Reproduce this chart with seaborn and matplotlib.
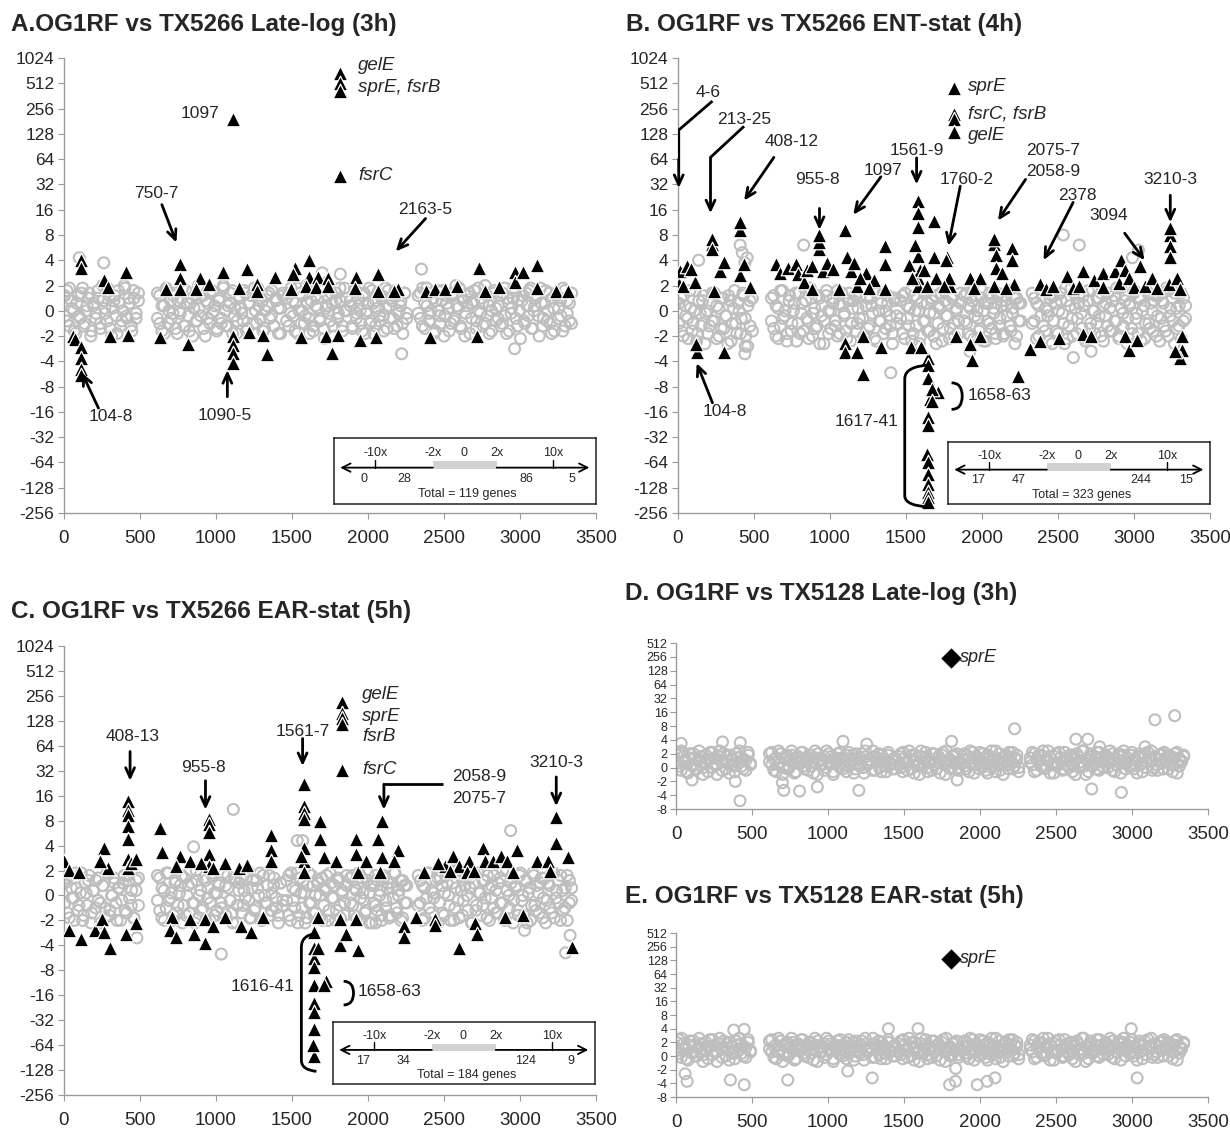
import numpy as np
import matplotlib
matplotlib.use("Agg")
import matplotlib.pyplot as plt
from matplotlib.path import Path
from matplotlib.patches import PathPatch
from matplotlib.ticker import FuncFormatter
import seaborn as sns

# ---- data (y in log2 units: 1 -> "2", -1 -> "-2", 0 -> "0") ----
# gene-order ranges covered by the array (gaps between them)
SEGMENTS = [(5, 490), (615, 1440), (1465, 1860), (1885, 2255), (2330, 3340)]

A_CLOUD = [
    [0.6,-0.4,0.9,0.1,-0.8,0.3,-0.2,0.7,-0.6,0.0,0.5,-1.0,0.2,-0.3,0.8,-0.5,0.4,-0.1,0.9,-0.7,0.1,0.6,-0.9,0.3,-0.4,1.0,-0.2,0.5,-0.6,0.8,-0.3,0.4],
    [0.7,-0.5,0.2,-0.9,0.8,0.0,-0.3,0.6,-0.7,0.4,-0.1,0.9,-0.6,0.3,-0.8,0.5,0.1,-0.4,1.0,-0.2,0.6,-1.0,0.3,-0.5,0.8,0.0,-0.7,0.4,-0.3,0.9,-0.6,0.2,0.7,-0.9,0.1,-0.4,0.5,-0.1,0.8,-0.8,0.3,0.6,-0.5,0.0,0.9,-0.3,0.4,-0.7,0.2,0.7,-0.2,-0.6,0.5,0.1,-0.9,0.6],
    [0.5,-0.6,0.9,-0.2,0.3,-0.9,0.7,0.0,-0.5,1.0,-0.3,0.4,-0.8,0.6,0.1,-0.4,0.8,-1.1,0.2,-0.1,0.7,-0.6,0.4,-0.3,0.9,-0.8,0.0,0.5],
    [0.4,-0.7,0.8,-0.1,0.2,-0.5,0.6,-0.9,0.0,0.9,-0.4,0.3,-0.6,0.7,-0.2,0.5,-0.8,0.1,0.8,-0.3,0.4,-0.7,0.6,-0.1,0.2,-0.5,0.7,-0.3],
    [0.6,-0.3,0.9,-0.7,0.2,-0.1,0.7,-0.9,0.4,0.0,-0.5,0.8,-0.2,0.3,-0.8,0.6,-0.4,1.0,0.1,-0.6,0.5,-1.0,0.2,0.7,-0.3,0.4,-0.7,0.9,-0.1,0.3,-0.5,0.6,-0.9,0.0,0.8,-0.4,0.2,-0.6,0.7,-0.2,0.5,-0.8,0.1,0.9,-0.3,0.4,-1.1,0.6,-0.5,0.2,0.8,-0.7,0.0,0.5,-0.2,0.9,-0.6,0.3,-0.4,0.7,-0.9,0.1,0.6,-0.3,0.4,-0.8,0.8,-0.1,0.3,-0.5],
]
A_CLOUD2 = [
    [-0.2,0.8,-0.6,0.4,0.0,-0.9,0.6,-0.3,0.9,-0.5,0.2,0.7,-0.8,0.3,-0.1,0.5,-0.7,1.0,0.1,-0.4,0.6,-1.0,0.4,-0.2,0.8,-0.6,0.0,0.9,-0.3,0.3,-0.8,0.5,-0.1,0.7],
    [-0.3,0.6,-0.8,0.2,0.9,-0.5,0.4,-0.1,0.7,-0.9,0.0,0.5,-0.6,0.8,-0.2,0.3,-1.0,0.6,-0.4,0.1,0.9,-0.7,0.4,-0.3,0.7,-0.1,0.2,-0.8,0.5,-0.5,1.0,0.0,-0.6,0.3,0.8,-0.2,-0.9,0.6,0.1,-0.4,0.7,-0.7,0.3,-0.1,0.9,-0.5,0.2,0.5,-0.8,0.0,0.6,-0.3,0.8,-0.6,0.4,-0.9,0.1,0.7],
    [-0.4,0.7,-0.1,0.4,-0.8,0.9,0.0,-0.5,0.6,-0.2,0.3,-0.9,0.8,-0.6,0.2,0.5,-0.3,1.0,-0.7,0.1,0.6,-0.4,0.3,-1.0,0.7,-0.1,0.4,-0.6,0.9,0.0],
    [0.2,-0.6,0.9,-0.3,0.5,0.0,-0.8,0.7,-0.1,0.3,-0.5,0.8,-0.9,0.4,0.1,-0.4,0.6,-0.2,0.9,-0.7,0.2,0.5,-0.3,0.8,-0.6,0.0,0.4,-0.9,0.7,-0.1],
    [-0.1,0.7,-0.6,0.3,0.9,-0.4,0.0,0.5,-0.8,0.8,-0.2,0.4,-1.0,0.6,0.1,-0.5,0.7,-0.3,0.2,0.9,-0.7,0.4,-0.1,0.6,-0.9,0.3,0.8,-0.4,0.0,0.5,-0.6,1.0,-0.2,0.2,-0.8,0.7,0.1,-0.3,0.6,-0.5,0.9,-0.9,0.3,-0.1,0.5,0.8,-0.6,0.0,0.4,-0.4,0.7,-0.2,0.9,-0.7,0.2,0.6,-1.0,0.3,-0.3,0.8,0.0,-0.5,0.5,-0.8,0.6,0.1,-0.2,0.9,-0.6,0.4,-0.4,0.7],
]
A_OUT = [(2352, 1.65), (2222, -1.7), (2965, -1.5), (1818, 1.45), (100, 2.1), (262, 1.9), (1700, 1.5)]
A_TRI = [
    (1818, 9.4), (1818, 9.0), (1818, 8.7), (1114, 7.6), (1818, 5.35),
    (110, 2.0), (110, 1.7), (265, 1.2), (292, 0.95), (409, 1.55),
    (57, -1.0), (75, -1.1), (110, -1.45), (110, -1.85), (110, -2.3), (110, -2.55),
    (305, -1.0), (422, -0.95), (631, -1.05),
    (762, 1.85), (762, 1.3), (762, 0.85), (670, 0.85), (814, -1.3),
    (892, 1.3), (866, 0.85), (957, 1.05), (1048, 1.55),
    (1114, -1.0), (1114, -1.35), (1114, -1.65), (1114, -2.05),
    (1205, 1.65), (1153, 0.9), (1218, -0.85),
    (1270, 1.05), (1270, 0.8), (1309, -0.95), (1335, -1.7), (1387, 1.35),
    (1518, 1.7), (1505, 1.45), (1495, 0.85), (1557, -1.05),
    (1609, 2.0), (1609, 1.35), (1590, 1.0), (1674, 1.35), (1660, 0.95),
    (1740, 1.3), (1735, 1.0), (1726, -1.0), (1766, -1.65), (1805, -0.95),
    (1922, 1.35), (1915, 0.9), (1948, -1.15),
    (2065, 1.45), (2065, 0.8), (2052, -1.05), (2196, 0.85), (2170, 0.8),
    (2379, 0.8), (2405, -1.05), (2444, 0.85), (2509, 0.85), (2587, 1.0),
    (2717, -1.0), (2731, 1.7), (2770, 0.8), (2861, 0.95),
    (2965, 1.55), (2965, 1.15), (3017, 1.55), (3109, 1.8), (3109, 0.9),
    (3239, 0.8), (3317, 0.8),
]

B_CLOUD = [
    [0.3,-0.8,0.6,-0.2,-1.1,0.1,-0.5,0.8,-0.9,-0.1,0.4,-1.3,0.0,-0.6,0.7,-0.4,0.2,-1.0,0.5,-0.7,-0.2,0.6,-1.2,0.1,-0.5,0.3,-0.9,0.7,-0.3,-1.4,0.4,-0.8],
    [0.5,-0.7,0.2,-1.1,0.8,-0.3,0.0,-0.9,0.6,-0.5,0.3,-1.2,0.7,-0.1,-0.8,0.4,-0.4,0.9,-1.0,0.1,-0.6,0.5,-0.2,-1.3,0.6,0.0,-0.7,0.3,-0.4,0.8,-0.9,0.2,-0.1,-1.1,0.7,-0.5,0.4,-0.8,0.1,0.6,-0.3,-1.0,0.5,-0.6,0.2,0.8,-1.2,0.0,-0.4,0.7,-0.7,0.3,-0.2,-0.9,0.5,-0.5],
    [0.4,-0.9,0.7,-0.3,0.1,-1.2,0.6,-0.6,0.0,-1.0,0.8,-0.4,0.3,-0.8,0.5,-0.1,-1.3,0.2,0.7,-0.7,0.4,-0.2,-1.1,0.6,-0.5,0.1,-0.9,0.3],
    [0.6,-0.5,0.2,-1.0,0.8,-0.2,0.0,-0.8,0.5,-1.2,0.3,-0.4,0.7,-0.7,0.1,-1.1,0.6,-0.3,0.4,-0.9,0.2,0.8,-0.6,-0.1,0.5,-1.0,0.3,-0.4],
    [0.7,-0.4,0.3,-1.0,0.8,-0.6,0.1,-0.2,0.5,-1.3,0.6,-0.8,0.0,0.4,-0.5,0.9,-1.1,0.2,-0.3,0.7,-0.9,0.3,-0.1,0.6,-1.2,0.4,-0.7,0.8,0.0,-0.5,0.5,-1.0,0.2,-0.2,0.7,-0.8,0.4,-0.4,0.9,-1.1,0.1,-0.6,0.6,-0.3,0.3,-0.9,0.8,-0.1,0.5,-1.2,0.2,-0.5,0.7,-0.7,0.0,0.4,-1.0,0.6,-0.3,0.3,-0.8,0.8,-0.2,0.5,-1.3,0.1,-0.6,0.7,-0.4,0.2],
]
B_CLOUD2 = [
    [-0.5,0.5,-1.0,0.2,-0.3,0.8,-0.8,0.0,-1.2,0.4,-0.6,0.6,-0.1,-0.9,0.3,-0.4,0.7,-1.1,0.1,-0.7,0.5,-0.2,-1.3,0.4,-0.5,0.8,-0.9,0.0,-0.3,0.6,-1.0,0.2,-0.6,0.5],
    [-0.4,0.6,-1.0,0.1,-0.6,0.8,-0.2,-1.2,0.4,-0.8,0.0,0.7,-0.5,-0.9,0.3,0.9,-0.3,-1.1,0.5,-0.1,-0.7,0.6,-1.3,0.2,-0.4,0.8,-0.9,0.0,0.5,-0.6,-1.0,0.3,0.7,-0.2,-0.8,0.4,-1.2,0.1,0.6,-0.5,-0.3,0.9,-1.0,0.2,-0.7,0.5,-0.1,-1.1,0.7,-0.4,0.3,-0.9,0.0,0.6,-0.6,-1.3,0.4,-0.2],
    [-0.3,0.6,-1.1,0.2,-0.6,0.8,-0.9,0.0,0.5,-1.3,0.3,-0.4,0.7,-0.8,-0.1,0.4,-1.0,0.6,-0.5,0.1,-1.2,0.8,-0.2,0.3,-0.7,0.5,-1.0,0.0,-0.4,0.7],
    [-0.4,0.7,-0.9,0.1,0.4,-1.1,0.6,-0.3,-0.7,0.8,0.0,-1.2,0.3,-0.5,0.5,-0.1,-0.9,0.7,-0.6,0.2,-1.0,0.4,-0.2,0.8,-0.8,0.1,-1.3,0.5,-0.4,0.3],
    [-0.5,0.5,-1.1,0.2,-0.2,0.8,-0.8,0.0,-1.2,0.6,-0.4,0.3,-0.9,0.7,-0.1,-1.3,0.4,-0.6,0.9,-1.0,0.1,-0.3,0.6,-0.7,0.2,-1.1,0.8,-0.5,0.0,-0.9,0.5,-0.2,0.7,-1.2,0.3,-0.6,0.1,-0.8,0.6,-0.4,-1.0,0.9,-0.1,0.4,-1.3,0.2,-0.7,0.7,-0.3,-0.9,0.5,0.0,-1.1,0.8,-0.5,0.3,-0.8,0.6,-0.2,-1.2,0.4,-0.6,0.9,-1.0,0.1,-0.4,0.7,-0.7,0.2,-1.1,0.5,-0.3],
]
B_OUT = [(409, 2.6), (423, 2.3), (440, 1.9), (455, 2.1), (136, 2.0), (443, -1.4), (440, -1.7), (827, 2.6),
         (2535, 3.0), (2640, 2.6), (2601, -1.85), (2718, -1.6), (1400, -2.45), (1920, -1.6), (3030, 2.4), (2990, 2.1)]
B_TRI = [
    (1818, 8.8), (1818, 7.8), (1818, 7.57), (1818, 7.07),
    (1578, 4.36), (1578, 3.86), (1578, 3.3), (1578, 2.15), (1578, 1.3), (1578, 1.0), (1560, 2.6), (1590, 1.6),
    (1687, 3.57), (1687, 2.14), (1700, 1.3),
    (1648, -1.86), (1648, -2.14), (1648, -2.65), (1655, -3.5), (1648, -4.2), (1648, -4.5), (1640, -5.65),
    (1648, -6.0), (1648, -6.45), (1648, -6.85), (1648, -7.15), (1648, -7.35), (1648, -7.55),
    (1713, -3.2), (1670, -3.1), (1670, -3.55),
    (1773, 2.14), (1792, 1.0), (1780, 1.3),
    (5, 1.07), (15, 1.57), (60, 1.79), (30, 1.0), (110, 1.14), (83, 1.64), (227, 2.64), (227, 2.86), (227, 2.43),
    (240, 0.79), (279, 1.57), (305, 1.93), (409, 3.21), (409, 3.5), (409, 1.43), (435, 1.86), (475, 0.93),
    (123, -1.64), (118, -1.3), (305, -1.64),
    (644, 1.86), (670, 1.5), (722, 1.71), (775, 1.86), (790, 1.45), (827, 1.14), (850, 1.6), (879, 0.86),
    (879, 1.79), (931, 2.43), (931, 2.71), (931, 3.0), (957, 1.57), (980, 1.9), (1022, 1.64), (1061, 0.86),
    (1100, 3.21), (1114, 2.14), (1140, 1.57), (1160, 1.9), (1179, 1.0), (1100, -1.29), (1100, -1.64),
    (1179, -1.64), (1218, -1.0), (1218, -2.5), (1335, -1.43), (1361, 2.57), (1361, 1.86), (1361, 0.86),
    (1240, 1.5), (1290, 1.2), (1200, 1.3), (1260, 0.9),
    (1531, -1.43), (1596, -1.43), (1520, 1.8), (1540, 1.3), (1620, 1.6), (1640, 1.0), (1766, 2.0),
    (1831, -1.0), (1750, 1.0),
    (1922, 1.29), (1987, 1.29), (1935, -1.93), (1922, -1.3), (1987, -1.0), (2078, 2.64), (2078, 2.86),
    (2090, 2.2), (2092, 1.71), (2078, 1.0), (2196, 2.5), (2200, 2.0), (2210, 1.07), (2235, -2.57),
    (1950, 0.9), (2130, 1.5), (2160, 0.9),
    (2313, -1.5), (2379, -1.21), (2379, 1.07), (2420, 0.85), (2470, 1.0), (2509, -1.07), (2561, 1.36),
    (2600, 0.9), (2666, 1.57), (2666, -0.93), (2640, 1.0), (2718, -1.0), (2740, 1.2), (2796, 1.5),
    (2796, 0.93), (2874, 1.57), (2913, 2.0), (2900, 1.1), (2939, 1.6), (2939, -1.0), (2965, -1.57),
    (2970, 1.3), (3017, -1.14), (3043, 1.79), (3000, 0.95), (3070, 1.0), (3122, 1.29), (3150, 0.9),
    (3239, 3.0), (3239, 3.29), (3239, 2.57), (3239, 2.14), (3230, 1.07), (3280, 1.3), (3304, 0.86),
    (3317, -1.0), (3317, -1.57), (3304, -1.86), (3270, -1.6),
]

C_CLOUD = [
    [0.5,-0.7,0.8,-0.1,-1.0,0.3,-0.4,0.9,-0.8,0.1,0.6,-1.1,0.2,-0.5,0.7,-0.3,0.4,-0.9,0.9,-0.6,0.0,0.5,-1.0,0.3,-0.2,0.8,-0.7,0.6,-0.4,-0.9,0.2,0.7],
    [0.8,-0.6,0.3,-1.0,0.9,-0.2,0.1,-0.8,0.6,-0.4,0.4,-1.1,0.7,0.0,-0.7,0.5,-0.3,1.0,-0.9,0.2,-0.5,0.6,-0.1,-1.0,0.8,0.1,-0.6,0.4,-0.3,0.9,-0.8,0.3,-0.2,-1.1,0.7,-0.4,0.5,-0.7,0.2,0.7,-0.2,-0.9,0.6,-0.5,0.3,0.9,-1.0,0.0,-0.3,0.8,-0.6,0.4,-0.1,-0.8,0.5,-0.4],
    [0.6,-0.8,0.9,-0.2,0.2,-1.1,0.7,-0.5,0.1,-0.9,0.9,-0.3,0.4,-0.7,0.6,0.0,-1.0,0.3,0.8,-0.6,0.5,-0.1,-1.0,0.7,-0.4,0.2,-0.8,0.4],
    [0.7,-0.4,0.3,-0.9,0.9,-0.1,0.1,-0.7,0.6,-1.1,0.4,-0.3,0.8,-0.6,0.2,-1.0,0.7,-0.2,0.5,-0.8,0.3,0.9,-0.5,0.0,0.6,-0.9,0.4,-0.3],
    [0.8,-0.3,0.4,-0.9,0.9,-0.5,0.2,-0.1,0.6,-1.1,0.7,-0.7,0.1,0.5,-0.4,1.0,-1.0,0.3,-0.2,0.8,-0.8,0.4,0.0,0.7,-1.1,0.5,-0.6,0.9,0.1,-0.4,0.6,-0.9,0.3,-0.1,0.8,-0.7,0.5,-0.3,1.0,-1.0,0.2,-0.5,0.7,-0.2,0.4,-0.8,0.9,0.0,0.6,-1.1,0.3,-0.4,0.8,-0.6,0.1,0.5,-0.9,0.7,-0.2,0.4,-0.7,0.9,-0.1,0.6,-1.0,0.2,-0.5,0.8,-0.3,0.3],
]
C_CLOUD2 = [
    [-0.3,0.7,-0.9,0.3,-0.1,0.9,-0.6,0.1,-1.0,0.5,-0.4,0.8,-0.7,0.2,0.6,-0.2,-1.1,0.4,-0.5,0.9,-0.8,0.0,0.7,-0.3,0.3,-1.0,0.5,-0.6,0.8,-0.1,0.2,-0.9,0.6,-0.4],
    [-0.2,0.7,-0.9,0.2,-0.5,0.9,-0.1,-1.0,0.5,-0.7,0.1,0.8,-0.4,-0.8,0.4,1.0,-0.3,-1.1,0.6,0.0,-0.6,0.7,-1.0,0.3,-0.3,0.9,-0.8,0.1,0.5,-0.5,-0.9,0.4,0.8,-0.2,-0.7,0.6,-1.1,0.2,0.7,-0.4,-0.1,1.0,-0.9,0.3,-0.6,0.6,0.0,-1.0,0.8,-0.3,0.4,-0.8,0.1,0.7,-0.5,-1.1,0.5,-0.2],
    [-0.2,0.8,-1.0,0.3,-0.5,0.9,-0.8,0.1,0.6,-1.1,0.4,-0.3,0.8,-0.7,0.0,0.5,-0.9,0.7,-0.4,0.2,-1.0,0.9,-0.1,0.4,-0.6,0.6,-0.9,0.1,-0.3,0.8],
    [-0.3,0.8,-0.8,0.2,0.5,-1.0,0.7,-0.2,-0.6,0.9,0.1,-1.1,0.4,-0.4,0.6,0.0,-0.8,0.8,-0.5,0.3,-0.9,0.5,-0.1,0.9,-0.7,0.2,-1.0,0.6,-0.3,0.4],
    [-0.4,0.6,-1.0,0.3,-0.1,0.9,-0.7,0.1,-1.1,0.7,-0.3,0.4,-0.8,0.8,0.0,-1.0,0.5,-0.5,1.0,-0.9,0.2,-0.2,0.7,-0.6,0.3,-1.1,0.9,-0.4,0.1,-0.8,0.6,-0.1,0.8,-1.0,0.4,-0.5,0.2,-0.7,0.7,-0.3,-0.9,1.0,0.0,0.5,-1.1,0.3,-0.6,0.8,-0.2,-0.8,0.6,0.1,-1.0,0.9,-0.4,0.4,-0.7,0.7,-0.1,-1.1,0.5,-0.5,0.9,-0.9,0.2,-0.3,0.8,-0.6,0.3,-1.0,0.6,-0.2],
]
C_OUT = [(1114, 3.45), (1035, -2.35), (853, 1.95), (2939, 2.6), (2052, -1.1), (3030, -1.4), (3330, -1.6),
         (1570, 2.2), (1535, 2.2), (3300, -2.3), (480, -1.7)]
C_TRI = [
    (1831, 7.75), (1831, 7.3), (1831, 7.1), (1831, 6.87), (1831, 5.04),
    (422, 3.8), (422, 3.44), (422, 3.22), (422, 2.78), (422, 2.27), (422, 1.46), (422, 1.1), (440, 1.3),
    (957, 3.07), (957, 2.85), (957, 2.56), (957, 1.68), (957, 1.2),
    (1578, 4.46), (1578, 3.58), (1578, 3.29), (1578, 3.07), (1578, 1.9), (1578, 1.39), (1578, 0.95), (1560, 1.6),
    (1687, 3.0), (1687, 2.27), (1710, 1.53), (1792, 1.39),
    (631, 2.7), (644, 1.75), (0, 1.39), (31, 1.02), (96, 0.95), (266, 1.9), (292, 1.1), (240, 1.4), (475, 1.46),
    (762, 1.6), (735, 1.17), (827, 1.39), (900, 1.3), (983, 1.1), (1061, 1.32), (1153, 1.1), (1205, 1.24),
    (1361, 2.41), (1361, 1.83), (1361, 1.39), (1922, 2.27), (1922, 1.68), (1935, 0.95), (1987, 1.39),
    (2065, 2.27), (2092, 1.53), (2078, 0.95), (2092, 3.0), (2196, 1.83), (2170, 1.39), (2366, 0.95),
    (2509, 1.17), (2561, 1.6), (2600, 1.17), (2666, 1.39), (2650, 0.95), (2757, 1.9), (2770, 1.39),
    (2822, 1.39), (2874, 1.6), (2913, 1.39), (2978, 1.83), (2952, 0.95), (3109, 1.39), (3187, 1.39),
    (3239, 2.12), (3239, 3.14), (3317, 1.53), (3200, 1.0), (2460, 1.3), (2540, 1.0), (2700, 1.0),
    (31, -1.39), (110, -1.75), (201, -1.39), (253, -0.95), (266, -1.46), (305, -2.12), (409, -1.53),
    (475, -1.1), (709, -0.88), (700, -1.39), (735, -1.68), (827, -0.95), (853, -1.53), (931, -1.9),
    (931, -0.95), (983, -1.24), (1061, -0.88), (1166, -1.24), (1231, -1.46), (1309, -0.88),
    (1648, -1.46), (1648, -2.12), (1648, -2.49), (1648, -2.85), (1648, -3.58), (1648, -4.31),
    (1648, -4.68), (1648, -5.34), (1648, -6.43), (1640, -6.0),
    (1674, -0.88), (1674, -2.12), (1726, -3.44), (1712, -3.6), (1818, -0.95), (1818, -1.97),
    (1857, -1.53), (1922, -0.95), (1935, -2.19), (2235, -1.24), (2235, -1.68), (2313, -0.88),
    (2444, -0.95), (2444, -1.2), (2600, -2.12), (2705, -1.1), (2718, -1.53), (2900, -0.88),
    (3017, -0.8), (3343, -2.05),
]

D_CLOUD = [
    [0.9,0.1,1.2,0.4,-0.3,0.7,0.2,1.0,-0.1,0.5,0.8,-0.5,0.3,0.6,1.1,0.0,0.7,0.2,1.2,-0.2,0.4,0.9,-0.4,0.6,0.1,1.0,0.3,0.8,-0.1,0.5,1.1,0.2],
    [1.0,0.2,0.6,-0.3,1.2,0.4,0.0,0.8,-0.1,0.5,0.9,-0.4,0.7,0.3,1.1,0.1,0.6,-0.2,0.9,0.4,1.2,-0.5,0.5,0.2,0.8,0.0,1.0,0.3,-0.3,0.7,0.5,1.1,-0.1,0.4,0.9,0.1,0.6,-0.4,1.0,0.3,0.7,0.0,1.2,0.2,0.5,-0.2,0.8,0.4,1.0,-0.3,0.6,0.1,0.9,0.3,-0.1,0.7],
    [0.8,0.0,1.1,0.3,-0.2,0.6,0.9,-0.4,0.5,0.2,1.2,0.1,0.7,-0.3,0.4,1.0,0.2,-0.1,0.8,0.5,1.1,-0.5,0.3,0.6,0.0,0.9,0.4,-0.2],
    [0.6,0.1,0.9,-0.3,0.4,1.1,0.2,0.7,-0.1,0.5,1.0,0.3,-0.4,0.8,0.0,0.6,1.2,0.2,-0.2,0.7,0.4,0.9,-0.1,0.5,1.1,0.1,0.6,-0.3],
    [0.7,0.2,1.0,-0.2,0.5,0.9,0.0,0.6,1.2,-0.4,0.3,0.8,0.1,1.1,0.4,-0.1,0.7,0.2,0.9,-0.3,0.6,1.0,0.0,0.4,1.2,-0.5,0.5,0.8,0.1,0.3,1.1,-0.2,0.7,0.4,0.9,0.0,0.6,1.0,-0.3,0.2,0.8,0.5,1.2,-0.1,0.4,0.9,0.1,0.6,-0.4,1.0,0.3,0.7,0.0,1.1,0.5,-0.2,0.8,0.2,0.6,1.0,-0.1,0.4,0.9,0.3,-0.3,0.7,1.1,0.1,0.5,0.8],
]
D_CLOUD2 = [
    [0.3,1.1,-0.2,0.8,0.5,-0.4,1.0,0.1,0.7,-0.1,1.2,0.4,0.0,0.9,-0.3,0.6,1.1,0.2,-0.5,0.8,0.4,1.0,-0.1,0.5,0.9,0.2,-0.3,0.7,1.2,0.1,0.6,-0.2,0.9,0.3],
    [0.4,1.1,-0.2,0.7,0.2,1.0,-0.5,0.6,0.9,0.0,1.2,0.3,-0.3,0.8,0.5,1.1,-0.1,0.4,0.9,0.1,-0.4,0.7,1.0,0.2,0.6,-0.2,1.2,0.3,0.8,-0.5,0.5,1.0,0.0,0.7,0.2,-0.3,1.1,0.4,0.9,-0.1,0.6,0.1,1.0,-0.4,0.8,0.3,0.5,1.2,-0.2,0.7,0.0,0.9,0.4,-0.3,1.1,0.2,0.6,-0.1],
    [0.2,1.0,-0.3,0.7,0.4,1.2,-0.1,0.5,0.9,0.1,-0.5,0.8,0.3,1.1,0.0,0.6,-0.2,1.0,0.4,0.7,-0.4,0.9,0.2,1.2,0.5,-0.1,0.8,0.3,1.0,0.0],
    [0.3,1.0,-0.1,0.6,1.2,0.2,-0.4,0.8,0.5,1.1,0.0,0.7,-0.2,0.9,0.4,1.2,0.1,-0.3,0.6,1.0,0.3,-0.5,0.8,0.2,1.1,0.5,-0.1,0.7,0.9,0.0],
    [0.4,1.1,-0.3,0.6,0.9,0.1,1.2,-0.1,0.5,0.8,0.2,-0.4,1.0,0.3,0.7,-0.2,1.1,0.5,0.0,0.9,0.2,-0.5,0.8,0.4,1.2,0.1,0.6,-0.3,1.0,0.3,0.7,-0.1,1.1,0.4,0.0,0.8,0.5,1.2,-0.2,0.6,0.2,1.0,-0.4,0.9,0.3,0.7,0.1,1.1,-0.1,0.5,0.8,0.2,-0.3,1.0,0.4,0.6,1.2,0.0,0.7,-0.2,0.9,0.3,1.1,0.5,-0.1,0.8,0.2,1.0,-0.4,0.6,0.4,0.9],
]
D_OUT = [(421, -2.4), (2228, 2.8), (3151, 3.45), (3281, 3.75), (1099, 1.9), (1255, 1.7), (1813, 1.9),
         (2631, 2.05), (2709, 2.05), (2787, 1.5), (3086, 1.5), (2735, -1.55), (2930, -1.8), (709, -1.65),
         (813, -1.7), (930, -1.4), (1203, -1.65), (423, 1.8), (306, 1.85), (34, 1.75), (105, -0.9),
         (390, -1.0), (700, -1.1), (1850, -0.9)]

E_CLOUD = [
    [1.0,0.2,1.3,0.5,-0.2,0.8,0.3,1.1,0.0,0.6,0.9,-0.4,0.4,0.7,1.2,0.1,0.8,0.3,1.3,-0.1,0.5,1.0,-0.3,0.7,0.2,1.1,0.4,0.9,0.0,0.6,1.2,0.3],
    [1.1,0.3,0.7,-0.2,1.3,0.5,0.1,0.9,0.0,0.6,1.0,-0.3,0.8,0.4,1.2,0.2,0.7,-0.1,1.0,0.5,1.3,-0.4,0.6,0.3,0.9,0.1,1.1,0.4,-0.2,0.8,0.6,1.2,0.0,0.5,1.0,0.2,0.7,-0.3,1.1,0.4,0.8,0.1,1.3,0.3,0.6,-0.1,0.9,0.5,1.1,-0.2,0.7,0.2,1.0,0.4,0.0,0.8],
    [0.9,0.1,1.2,0.4,-0.1,0.7,1.0,-0.3,0.6,0.3,1.3,0.2,0.8,-0.2,0.5,1.1,0.3,0.0,0.9,0.6,1.2,-0.4,0.4,0.7,0.1,1.0,0.5,-0.1],
    [0.7,0.2,1.0,-0.2,0.5,1.2,0.3,0.8,0.0,0.6,1.1,0.4,-0.3,0.9,0.1,0.7,1.3,0.3,-0.1,0.8,0.5,1.0,0.0,0.6,1.2,0.2,0.7,-0.2],
    [0.8,0.3,1.1,-0.1,0.6,1.0,0.1,0.7,1.3,-0.3,0.4,0.9,0.2,1.2,0.5,0.0,0.8,0.3,1.0,-0.2,0.7,1.1,0.1,0.5,1.3,-0.4,0.6,0.9,0.2,0.4,1.2,-0.1,0.8,0.5,1.0,0.1,0.7,1.1,-0.2,0.3,0.9,0.6,1.3,0.0,0.5,1.0,0.2,0.7,-0.3,1.1,0.4,0.8,0.1,1.2,0.6,-0.1,0.9,0.3,0.7,1.1,0.0,0.5,1.0,0.4,-0.2,0.8,1.2,0.2,0.6,0.9],
]
E_CLOUD2 = [
    [0.4,1.2,-0.1,0.9,0.6,-0.3,1.1,0.2,0.8,0.0,1.3,0.5,0.1,1.0,-0.2,0.7,1.2,0.3,-0.4,0.9,0.5,1.1,0.0,0.6,1.0,0.3,-0.2,0.8,1.3,0.2,0.7,-0.1,1.0,0.4],
    [0.5,1.2,-0.1,0.8,0.3,1.1,-0.4,0.7,1.0,0.1,1.3,0.4,-0.2,0.9,0.6,1.2,0.0,0.5,1.0,0.2,-0.3,0.8,1.1,0.3,0.7,-0.1,1.3,0.4,0.9,-0.4,0.6,1.1,0.1,0.8,0.3,-0.2,1.2,0.5,1.0,0.0,0.7,0.2,1.1,-0.3,0.9,0.4,0.6,1.3,-0.1,0.8,0.1,1.0,0.5,-0.2,1.2,0.3,0.7,0.0],
    [0.3,1.1,-0.2,0.8,0.5,1.3,0.0,0.6,1.0,0.2,-0.4,0.9,0.4,1.2,0.1,0.7,-0.1,1.1,0.5,0.8,-0.3,1.0,0.3,1.3,0.6,0.0,0.9,0.4,1.1,0.1],
    [0.4,1.1,0.0,0.7,1.3,0.3,-0.3,0.9,0.6,1.2,0.1,0.8,-0.1,1.0,0.5,1.3,0.2,-0.2,0.7,1.1,0.4,-0.4,0.9,0.3,1.2,0.6,0.0,0.8,1.0,0.1],
    [0.5,1.2,-0.2,0.7,1.0,0.2,1.3,0.0,0.6,0.9,0.3,-0.3,1.1,0.4,0.8,-0.1,1.2,0.6,0.1,1.0,0.3,-0.4,0.9,0.5,1.3,0.2,0.7,-0.2,1.1,0.4,0.8,0.0,1.2,0.5,0.1,0.9,0.6,1.3,-0.1,0.7,0.3,1.1,-0.3,1.0,0.4,0.8,0.2,1.2,0.0,0.6,0.9,0.3,-0.2,1.1,0.5,0.7,1.3,0.1,0.8,-0.1,1.0,0.4,1.2,0.6,0.0,0.9,0.3,1.1,-0.3,0.7,0.5,1.0],
]
E_OUT = [(1397, 2.0), (1592, 2.0), (2995, 2.0), (449, 1.95), (380, 1.9), (1800, -2.1), (1839, -1.85),
         (1982, -2.1), (2047, -1.85), (2099, -1.6), (449, -2.1), (358, -1.75), (73, -1.85), (60, -1.3),
         (3034, -1.6), (1291, -1.6), (735, -1.75), (1130, -1.1), (1840, -0.9)]

D_SPRE = (1812, 7.93)
E_SPRE = (1812, 7.1)

TITLES = ["A.OG1RF vs TX5266 Late-log (3h)", "B. OG1RF vs TX5266 ENT-stat (4h)",
          "C. OG1RF vs TX5266 EAR-stat (5h)", "D. OG1RF vs TX5128 Late-log (3h)",
          "E. OG1RF vs TX5128 EAR-stat (5h)"]

KEY_LABELS = ["-10x", "-2x", "0", "2x", "10x"]
KEY_POS = [0.159, 0.378, 0.498, 0.622, 0.838]
COUNT_POS = [0.115, 0.27, 0.735, 0.91]
A_COUNTS = ["0", "28", "86", "5"]
B_COUNTS = ["17", "47", "244", "15"]
C_COUNTS = ["17", "34", "124", "9"]

# ---- style ----
sns.set_style("white")
plt.rcParams['font.family'] = ['Liberation Sans', 'DejaVu Sans']

GRAY = '#bebebe'
AXC = '#9a9a9a'

fig = plt.figure(figsize=(12.3, 11.29), dpi=100)

ax_a = fig.add_axes([0.0520, 0.5456, 0.4325, 0.4030])
ax_b = fig.add_axes([0.5512, 0.5456, 0.4325, 0.4030])
ax_c = fig.add_axes([0.0520, 0.0301, 0.4325, 0.3977])
ax_d = fig.add_axes([0.5496, 0.2834, 0.4325, 0.1470])
ax_e = fig.add_axes([0.5496, 0.0283, 0.4325, 0.1453])


def fold_label(v, pos):
    v = int(round(v))
    if v == 0:
        return "0"
    return str(2 ** v) if v > 0 else "-" + str(2 ** (-v))


def setup(ax, ylo, yhi, ysize):
    ax.set_xlim(0, 3500)
    ax.set_ylim(ylo, yhi)
    ax.set_xticks(np.arange(0, 3501, 500))
    ax.set_yticks(np.arange(ylo, yhi + 1))
    ax.yaxis.set_major_formatter(FuncFormatter(fold_label))
    sns.despine(ax=ax)
    for s in ('left', 'bottom'):
        ax.spines[s].set_color(AXC)
        ax.spines[s].set_linewidth(1.0)
    ax.tick_params(axis='y', labelsize=ysize, length=4, color=AXC, pad=3, direction='out', left=True)
    ax.tick_params(axis='x', labelsize=13.5, length=4, color=AXC, pad=8, direction='out', bottom=True)
    ax.set_xlabel('')
    ax.set_ylabel('')


def draw_cloud(ax, clouds, outliers):
    xs, ys = [], []
    for cloud in clouds:
        for (lo, hi), vals in zip(SEGMENTS, cloud):
            xs.extend(np.linspace(lo, hi, len(vals)))
            ys.extend(vals)
    xs.extend([p[0] for p in outliers])
    ys.extend([p[1] for p in outliers])
    sns.scatterplot(x=xs, y=ys, ax=ax, marker='o', s=62, color=GRAY, linewidth=1.5, zorder=1, legend=False)
    ax.collections[-1].set_facecolor('none')
    ax.collections[-1].set_edgecolor(GRAY)


def draw_tri(ax, pts):
    sns.scatterplot(x=[p[0] for p in pts], y=[p[1] for p in pts], ax=ax, marker='^', s=110,
                    color='black', edgecolor='white', linewidth=0.9, zorder=3, legend=False)


def arrow(ax, start, end):
    ax.annotate('', xy=end, xytext=start, zorder=5,
                arrowprops=dict(arrowstyle='->,head_length=0.7,head_width=0.32', lw=2.0,
                                color='black', shrinkA=0, shrinkB=0))


def line(ax, xs, ys):
    ax.plot(xs, ys, color='black', lw=2.0, zorder=5, solid_capstyle='butt')


def label(ax, x, y, t, ha='center', italic=False):
    ax.text(x, y, t, ha=ha, va='center', fontsize=13.5 if italic else 12.5,
            style='italic' if italic else 'normal', zorder=6)


def bracket(ax, xr, xl, ytop, ybot):
    verts = [(xr, ytop), (xl, ytop - 0.05), (xl, ytop - 0.55), (xl, ybot + 0.4), (xl, ybot), (xr, ybot - 0.05)]
    codes = [Path.MOVETO, Path.CURVE3, Path.CURVE3, Path.LINETO, Path.CURVE3, Path.CURVE3]
    ax.add_patch(PathPatch(Path(verts, codes), fill=False, lw=2.0, color='black', zorder=5))


def paren(ax, xl, xr, ytop, ybot):
    ym = (ytop + ybot) / 2
    verts = [(xl, ytop), (xr, ytop), (xr, ym), (xr, ybot), (xl, ybot)]
    codes = [Path.MOVETO, Path.CURVE3, Path.CURVE3, Path.CURVE3, Path.CURVE3]
    ax.add_patch(PathPatch(Path(verts, codes), fill=False, lw=2.0, color='black', zorder=5))


def key_box(ax, bounds, counts, total):
    ins = ax.inset_axes(bounds, zorder=7)
    ins.set_xlim(0, 1)
    ins.set_ylim(0, 1)
    ins.set_xticks([])
    ins.set_yticks([])
    ins.set_facecolor('white')
    for sp in ins.spines.values():
        sp.set_visible(True)
        sp.set_color('#222222')
        sp.set_linewidth(1.1)
    ins.fill_between([KEY_POS[1], KEY_POS[3]], 0.53, 0.65, color='#d2d2d2', lw=0)
    for tip, base in ((0.025, KEY_POS[1]), (0.975, KEY_POS[3])):
        ins.annotate('', xy=(tip, 0.55), xytext=(base, 0.55),
                     arrowprops=dict(arrowstyle='->,head_length=0.6,head_width=0.3', lw=1.3,
                                     color='black', shrinkA=0, shrinkB=0))
    for p in (KEY_POS[0], KEY_POS[4]):
        ins.plot([p, p], [0.55, 0.67], color='black', lw=1.0)
    for p, t in zip(KEY_POS, KEY_LABELS):
        ins.text(p, 0.77, t, ha='center', va='center', fontsize=9)
    for p, t in zip(COUNT_POS, counts):
        ins.text(p, 0.38, t, ha='center', va='center', fontsize=9)
    ins.text(0.51, 0.15, total, ha='center', va='center', fontsize=9)


# ---- panel A ----
setup(ax_a, -8, 10, 12.5)
draw_cloud(ax_a, [A_CLOUD, A_CLOUD2], A_OUT)
draw_tri(ax_a, A_TRI)
label(ax_a, 892, 7.8, "1097")
label(ax_a, 605, 4.64, "750-7")
arrow(ax_a, (644, 4.2), (740, 2.7))
label(ax_a, 2379, 4.0, "2163-5")
arrow(ax_a, (2379, 3.65), (2183, 2.35))
label(ax_a, 305, -4.2, "104-8")
arrow(ax_a, (227, -3.85), (118, -2.45))
label(ax_a, 1061, -4.15, "1090-5")
arrow(ax_a, (1075, -3.4), (1075, -2.35))
label(ax_a, 1935, 9.7, "gelE", ha='left', italic=True)
label(ax_a, 1935, 8.85, "sprE, fsrB", ha='left', italic=True)
label(ax_a, 1935, 5.36, "fsrC", ha='left', italic=True)
key_box(ax_a, [0.507, 0.02, 0.493, 0.145], A_COUNTS, "Total = 119 genes")

# ---- panel B ----
setup(ax_b, -8, 10, 12.5)
draw_cloud(ax_b, [B_CLOUD, B_CLOUD2], B_OUT)
draw_tri(ax_b, B_TRI)
label(ax_b, 201, 8.64, "4-6")
line(ax_b, [227, 5, 5], [8.3, 7.15, 6.0])
arrow(ax_b, (5, 6.0), (5, 4.86))
label(ax_b, 435, 7.57, "213-25")
line(ax_b, [435, 214, 214], [7.3, 6.07, 5.0])
arrow(ax_b, (214, 5.0), (214, 3.86))
label(ax_b, 749, 6.71, "408-12")
arrow(ax_b, (631, 6.07), (435, 4.36))
label(ax_b, 918, 5.21, "955-8")
arrow(ax_b, (931, 4.05), (931, 3.2))
label(ax_b, 1348, 5.57, "1097")
arrow(ax_b, (1335, 5.3), (1153, 3.8))
label(ax_b, 1570, 6.36, "1561-9")
arrow(ax_b, (1570, 6.05), (1570, 5.0))
label(ax_b, 1896, 5.21, "1760-2")
arrow(ax_b, (1857, 4.93), (1779, 2.57))
label(ax_b, 2470, 6.36, "2075-7")
label(ax_b, 2470, 5.5, "2058-9")
arrow(ax_b, (2287, 5.2), (2105, 3.57))
label(ax_b, 2626, 4.57, "2378")
arrow(ax_b, (2600, 4.29), (2405, 2.0))
label(ax_b, 2835, 3.79, "3094")
arrow(ax_b, (2939, 3.07), (3070, 2.0))
label(ax_b, 3239, 5.21, "3210-3")
arrow(ax_b, (3239, 4.57), (3239, 3.5))
label(ax_b, 305, -4.0, "104-8")
arrow(ax_b, (227, -3.64), (123, -2.07))
label(ax_b, 2118, -3.36, "1658-63")
paren(ax_b, 1800, 1870, -2.85, -3.9)
label(ax_b, 1450, -4.36, "1617-41", ha='right')
bracket(ax_b, 1661, 1492, -2.14, -7.72)
label(ax_b, 1909, 8.86, "sprE", ha='left', italic=True)
label(ax_b, 1909, 7.79, "fsrC, fsrB", ha='left', italic=True)
label(ax_b, 1909, 6.93, "gelE", ha='left', italic=True)
key_box(ax_b, [0.507, 0.02, 0.493, 0.137], B_COUNTS, "Total = 323 genes")

# ---- panel C ----
setup(ax_c, -8, 10, 12.5)
draw_cloud(ax_c, [C_CLOUD, C_CLOUD2], C_OUT)
draw_tri(ax_c, C_TRI)
label(ax_c, 449, 6.36, "408-13")
arrow(ax_c, (435, 5.77), (435, 4.6))
label(ax_c, 918, 5.12, "955-8")
arrow(ax_c, (931, 4.6), (931, 3.44))
label(ax_c, 1570, 6.58, "1561-7")
arrow(ax_c, (1570, 6.29), (1570, 5.19))
label(ax_c, 2731, 4.75, "2058-9")
label(ax_c, 2731, 3.87, "2075-7")
line(ax_c, [2496, 2105], [4.46, 4.46])
arrow(ax_c, (2105, 4.46), (2105, 3.44))
label(ax_c, 3239, 5.34, "3210-3")
arrow(ax_c, (3239, 4.75), (3239, 3.58))
label(ax_c, 1518, -3.65, "1616-41", ha='right')
bracket(ax_c, 1661, 1562, -1.53, -7.0)
label(ax_c, 2144, -3.87, "1658-63")
paren(ax_c, 1840, 1905, -3.44, -4.39)
label(ax_c, 1961, 8.04, "gelE", ha='left', italic=True)
label(ax_c, 1961, 7.16, "sprE", ha='left', italic=True)
label(ax_c, 1961, 6.36, "fsrB", ha='left', italic=True)
label(ax_c, 1961, 5.04, "fsrC", ha='left', italic=True)
key_box(ax_c, [0.505, 0.024, 0.493, 0.139], C_COUNTS, "Total = 184 genes")

# ---- panels D, E ----
for ax, clouds, out, spre in ((ax_d, [D_CLOUD, D_CLOUD2], D_OUT, D_SPRE),
                              (ax_e, [E_CLOUD, E_CLOUD2], E_OUT, E_SPRE)):
    setup(ax, -3, 9, 9)
    draw_cloud(ax, clouds, out)
    sns.scatterplot(x=[spre[0]], y=[spre[1]], ax=ax, marker='D', s=120, color='black',
                    edgecolor='white', linewidth=0.6, zorder=3, legend=False)
    ax.text(spre[0] + 55, spre[1], "sprE", ha='left', va='center', fontsize=13, style='italic')
    ax.tick_params(axis='y', pad=2)

# ---- titles ----
TITLE_POS = [(0.009, 0.978), (0.509, 0.978), (0.009, 0.458), (0.508, 0.4747), (0.508, 0.2055)]
for (tx, ty), t in zip(TITLE_POS, TITLES):
    fig.text(tx, ty, t, ha='left', va='center', fontsize=17.5, fontweight='bold')

fig.savefig('out.png', dpi=100, facecolor='white')
